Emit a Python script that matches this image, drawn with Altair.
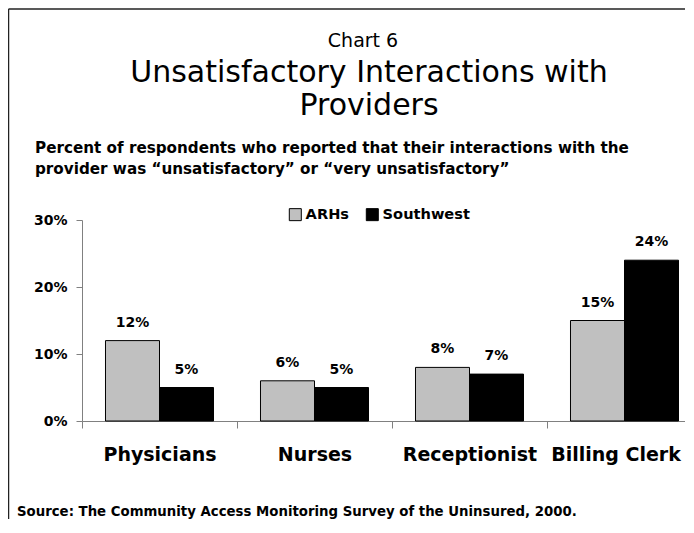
import altair as alt
import pandas as pd

categories = ["Physicians", "Nurses", "Receptionist", "Billing Clerk"]
series = ["ARHs", "Southwest"]
arhs = [12, 6, 8, 15]
southwest = [5, 5, 7, 24]
y_ticks = [0, 10, 20, 30]
colors = ["#C0C0C0", "#000000"]

chart_no = "Chart 6"
title_lines = ["Unsatisfactory Interactions with", "Providers"]
subtitle_lines = [
    "Percent of respondents who reported that their interactions with the",
    "provider was \u201cunsatisfactory\u201d or \u201cvery unsatisfactory\u201d",
]
source = "Source: The Community Access Monitoring Survey of the Uninsured, 2000."

rows = []
for c, a, s in zip(categories, arhs, southwest):
    rows.append({"category": c, "series": series[0], "value": a})
    rows.append({"category": c, "series": series[1], "value": s})
df = pd.DataFrame(rows)
df["label"] = df["value"].astype(str) + "%"

FONT = "DejaVu Sans"
GRAY = "#808080"

x_enc = alt.X(
    "category:N",
    sort=categories,
    scale=alt.Scale(domain=categories, paddingInner=0, paddingOuter=0),
    axis=alt.Axis(
        title=None,
        labelAngle=0,
        labelFont=FONT,
        labelFontWeight="bold",
        labelFontSize=19,
        labelColor="black",
        labelBaseline="alphabetic",
        labelPadding=32,
        labelOffset={
            "condition": {"test": "datum.label == 'Billing Clerk'", "value": -9},
            "value": 0,
        },
        tickBand="extent",
        tickSize=7,
        tickColor=GRAY,
        domainColor=GRAY,
        labelOverlap=False,
    ),
)
xo_enc = alt.XOffset(
    "series:N", sort=series, scale=alt.Scale(domain=series, paddingInner=0, paddingOuter=0.435)
)
y_enc = alt.Y(
    "value:Q",
    scale=alt.Scale(domain=[0, 30], nice=False),
    axis=alt.Axis(
        title=None,
        values=y_ticks,
        labelExpr="datum.value + '%'",
        labelFont=FONT,
        labelFontWeight="bold",
        labelFontSize=14,
        labelColor="black",
        labelPadding=9,
        tickSize=6,
        tickColor=GRAY,
        domainColor=GRAY,
        grid=False,
    ),
)

bars = alt.Chart(df).mark_bar(stroke="black", strokeWidth=1).encode(
    x=x_enc,
    xOffset=xo_enc,
    y=y_enc,
    color=alt.Color(
        "series:N",
        sort=series,
        scale=alt.Scale(domain=series, range=colors),
        legend=alt.Legend(
            title=None,
            orient="none",
            legendX=206,
            legendY=-13,
            direction="horizontal",
            symbolType="square",
            symbolSize=144,
            symbolStrokeColor="black",
            symbolStrokeWidth=1,
            labelFont=FONT,
            labelFontWeight="bold",
            labelFontSize=14.6,
            labelColor="black",
            labelOffset=3,
            columnPadding=14,
            padding=0,
        ),
    ),
)

labels = alt.Chart(df).mark_text(
    dy=-18, baseline="middle", font=FONT, fontWeight="bold", fontSize=14, color="black"
).encode(x=x_enc, xOffset=xo_enc, y=y_enc, text="label:N")

one = alt.Data(values=[{}])


def txt(t, x, y, size, weight="normal", align="center"):
    return alt.Chart(one).mark_text(
        text=t, font=FONT, fontSize=size, fontWeight=weight, align=align,
        baseline="alphabetic", color="black",
    ).encode(x=alt.value(x), y=alt.value(y))


border_top = alt.Chart(one).mark_rule(stroke="#222222", strokeWidth=1.5).encode(
    x=alt.value(-73.5), x2=alt.value(2000), y=alt.value(-211)
)
border_left = alt.Chart(one).mark_rule(stroke="#222222", strokeWidth=1.5).encode(
    x=alt.value(-73.5), y=alt.value(-211), y2=alt.value(2000)
)

annots = [
    txt(chart_no, 281, -173, 19),
    txt(title_lines[0], 287, -138, 30),
    txt(title_lines[1], 287, -105, 30),
    txt(subtitle_lines[0], -47, -67, 15.2, "bold", "left"),
    txt(subtitle_lines[1], -47, -46, 15.2, "bold", "left"),
    txt(source, -65, 296, 13.3, "bold", "left"),
]

chart = alt.layer(border_top, border_left, bars, labels, *annots).properties(
    width=620,
    height=201,
    padding={"left": 74, "top": 212, "right": -17, "bottom": 98},
    autosize=alt.AutoSizeParams(type="none"),
    background="white",
).configure_view(stroke=None)

chart.save("out.html", embed_options={"renderer": "svg", "actions": False})
